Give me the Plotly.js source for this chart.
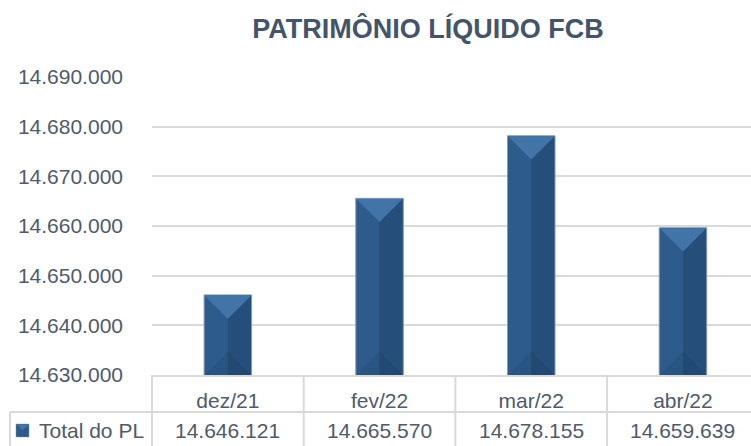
<!DOCTYPE html>
<html>
<head>
<meta charset="utf-8">
<script src="https://cdn.plot.ly/plotly-3.0.1.min.js"></script>
<style>
html,body{margin:0;padding:0;background:#fff;overflow:hidden;}
#chart{width:751px;height:446px;}
</style>
</head>
<body>
<div id="chart"></div>
<script>
// ---- data ----
const categories = ["dez/21", "fev/22", "mar/22", "abr/22"];
const seriesName = "Total do PL";
const values = [14646121, 14665570, 14678155, 14659639];
const yMin = 14630000;
const yMax = 14690000;
const yStep = 10000;
const chartTitle = "PATRIMÔNIO LÍQUIDO FCB";

// ---- layout constants ----
const W = 751, H = 446;
const mL = 152, mR = 0, mT = 77, mB = 71;
const plotW = W - mL - mR, plotH = H - mT - mB;
const catPx = 151.7;
const barWidth = 0.313;
const xRange = [-0.5, -0.5 + plotW / catPx];
const unitsPerPx = (yMax - yMin) / plotH;
const pxX = p => (p - mL) / plotW;          // pixel -> paper x
const pxY = p => (H - mB - p) / plotH;      // pixel -> paper y

const textColor = "#4F5A6B";
const gridColor = "#D9D9D9";
const font = "Liberation Sans, Arial, sans-serif";

function fmt(v) {
  return String(Math.round(v)).replace(/\B(?=(\d{3})+(?!\d))/g, ".");
}

const idx = categories.map((c, i) => i);

const trace = {
  type: "bar",
  x: idx,
  y: values,
  name: seriesName,
  width: barWidth,
  marker: { color: "#2D5C8C", line: { color: "#8598AD", width: 1 } },
  hoverinfo: "skip"
};

// bevel shapes computed from data
const shapes = [];
const hw = barWidth / 2;
const depth = hw * catPx * unitsPerPx;
values.forEach((v, i) => {
  // right half darker
  shapes.push({
    type: "rect", xref: "x", yref: "y", layer: "above",
    x0: i, x1: i + hw - 0.004, y0: yMin, y1: v - depth,
    fillcolor: "rgba(10,25,50,0.2)", line: { width: 0 }
  });
  shapes.push({
    type: "path", xref: "x", yref: "y", layer: "above",
    path: `M ${i},${v - depth} L ${i + hw - 0.004},${v - 0.0001} L ${i + hw - 0.004},${v - depth} Z`,
    fillcolor: "rgba(10,25,50,0.2)", line: { width: 0 }
  });
  // top triangle lighter
  shapes.push({
    type: "path", xref: "x", yref: "y", layer: "above",
    path: `M ${i - hw + 0.004},${v - 150} L ${i + hw - 0.004},${v - 150} L ${i},${v - depth} Z`,
    fillcolor: "#4374A7", line: { width: 0 }
  });
  // bottom triangle darker
  shapes.push({
    type: "path", xref: "x", yref: "y", layer: "above",
    path: `M ${i - hw + 0.004},${yMin} L ${i + hw - 0.004},${yMin} L ${i},${yMin + depth} Z`,
    fillcolor: "rgba(10,25,50,0.1)", line: { width: 0 }
  });
});

// data-table lines
const lineStyle = { color: gridColor, width: 2 };
shapes.push({ type: "line", xref: "paper", yref: "paper", x0: 0, x1: 0, y0: 0, y1: pxY(450), line: lineStyle });
for (let i = 1; i < categories.length; i++) {
  shapes.push({ type: "line", xref: "x", yref: "paper", x0: i - 0.5, x1: i - 0.5, y0: 0, y1: pxY(450), line: lineStyle });
}
shapes.push({ type: "line", xref: "paper", yref: "paper", x0: pxX(10), x1: 1, y0: pxY(412), y1: pxY(412), line: lineStyle });
shapes.push({ type: "line", xref: "paper", yref: "paper", x0: pxX(10), x1: pxX(10), y0: pxY(412), y1: pxY(450), line: lineStyle });
// legend key
shapes.push({ type: "rect", xref: "paper", yref: "paper", x0: pxX(16), x1: pxX(29), y0: pxY(437), y1: pxY(424),
  fillcolor: "#2D5C8C", line: { color: "#8598AD", width: 0.5 } });
shapes.push({ type: "path", xref: "paper", yref: "paper",
  path: `M ${pxX(16.5)},${pxY(424.5)} L ${pxX(28.5)},${pxY(424.5)} L ${pxX(22.5)},${pxY(430.5)} Z`,
  fillcolor: "#4374A7", line: { width: 0 } });

const annotations = [];
values.forEach((v, i) => {
  annotations.push({
    xref: "x", yref: "paper", x: i, y: pxY(430), text: fmt(v),
    showarrow: false, xanchor: "center", yanchor: "middle",
    font: { family: font, size: 21, color: textColor }
  });
});
annotations.push({
  xref: "paper", yref: "paper", x: pxX(37), y: pxY(430), text: seriesName,
  showarrow: false, xanchor: "left", yanchor: "middle",
  font: { family: font, size: 21, color: textColor }
});

const layout = {
  width: W, height: H,
  margin: { l: mL, r: mR, t: mT, b: mB, pad: 0 },
  paper_bgcolor: "#fff", plot_bgcolor: "#fff",
  separators: ",.",
  showlegend: false,
  title: {
    text: "<b>" + chartTitle + "</b>",
    x: 428 / W, xanchor: "center", xref: "container",
    y: 1 - 29 / H, yanchor: "middle", yref: "container",
    font: { family: font, size: 27, color: "#44546A" }
  },
  xaxis: {
    range: xRange, tickvals: idx, ticktext: categories,
    showgrid: false, zeroline: false, ticks: "",
    showline: true, linecolor: gridColor, linewidth: 2,
    tickfont: { family: font, size: 21, color: textColor },
    ticklabelstandoff: 6, fixedrange: true
  },
  yaxis: {
    range: [yMin, yMax], dtick: yStep, tick0: yMin, tickformat: ",d",
    showgrid: true, gridcolor: gridColor, gridwidth: 2,
    zeroline: false, showline: false, ticks: "",
    tickfont: { family: font, size: 21, color: textColor },
    ticklabelstandoff: 28, fixedrange: true
  },
  shapes: shapes,
  annotations: annotations,
  bargap: 0
};

Plotly.newPlot("chart", [trace], layout, { displayModeBar: false, staticPlot: true });
</script>
</body>
</html>
